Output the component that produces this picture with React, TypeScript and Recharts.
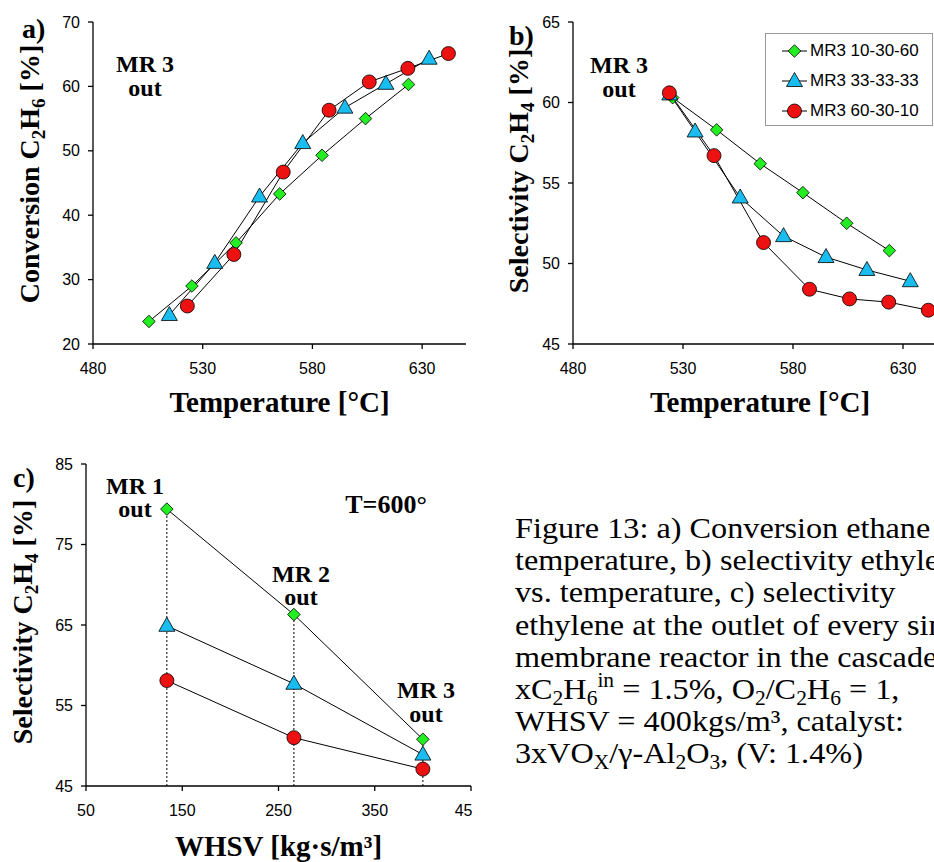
import React from 'react';
import { LineChart, Line, XAxis, YAxis, Legend, ReferenceLine } from 'recharts';

const SERIF = '"Liberation Serif", "Times New Roman", serif';
const SANS = '"Liberation Sans", Arial, sans-serif';

const GREEN = '#22ee22';
const BLUE = '#19bdf0';
const RED = '#ee1111';

// a) conversion of ethane vs temperature (MR 3 outlet)
const aGreenT = [505.5, 525.1, 545.2, 565.1, 584.4, 604.2, 623.8];
const aGreenConv = [23.5, 29.0, 35.7, 43.3, 49.3, 55.0, 60.3];
const aBlueT = [514.8, 535.5, 555.9, 575.6, 594.8, 613.5, 633.2];
const aBlueConv = [24.5, 32.6, 42.9, 51.2, 56.7, 60.4, 64.3];
const aRedT = [523.0, 544.2, 566.7, 587.6, 605.9, 623.5, 642.0];
const aRedConv = [25.9, 33.9, 46.7, 56.3, 60.7, 62.8, 65.1];

// b) selectivity to ethylene vs temperature (MR 3 outlet)
const bGreenT = [525.3, 545.3, 565.1, 584.5, 604.4, 623.8];
const bGreenSel = [60.3, 58.3, 56.2, 54.4, 52.5, 50.8];
const bBlueT = [524.0, 535.5, 556.0, 575.7, 595.0, 613.6, 633.3];
const bBlueSel = [60.5, 58.2, 54.1, 51.7, 50.4, 49.6, 48.9];
const bRedT = [523.8, 544.1, 566.6, 587.5, 605.7, 623.5, 641.5];
const bRedSel = [60.6, 56.7, 51.3, 48.4, 47.8, 47.6, 47.1];

// c) selectivity at the outlet of each reactor, T=600
const whsv = [134, 266, 400];
const cGreenSel = [79.4, 66.3, 50.8];
const cBlueSel = [64.9, 57.7, 48.9];
const cRedSel = [58.1, 51.0, 47.1];

const tempTicks = [480, 530, 580, 630];
const convTicks = [20, 30, 40, 50, 60, 70];
const selTicksB = [45, 50, 55, 60, 65];
const whsvTicks = [50, 150, 250, 350, 450];
const selTicksC = [45, 55, 65, 75, 85];

const seriesNames = ['MR3 10-30-60', 'MR3 33-33-33', 'MR3 60-30-10'];

const zip = (xs: number[], ys: number[]) => xs.map((x, i) => ({ x, y: ys[i] }));

const AXIS = { stroke: '#000', strokeWidth: 1.3 };
const FRAME = { stroke: '#a8a8a8', strokeWidth: 1.5 };
const TICK = { fill: '#000', fontSize: 16, fontFamily: SANS };

function marker(shape: string, cx: number, cy: number, key?: any) {
  if (cx == null || cy == null) return null;
  if (shape === 'diamond') {
    const r = 6.3;
    return <path key={key} d={`M${cx},${cy - r}L${cx + r},${cy}L${cx},${cy + r}L${cx - r},${cy}Z`} fill={GREEN} stroke="#000" strokeWidth={0.8} />;
  }
  if (shape === 'triangle') {
    return <path key={key} d={`M${cx},${cy - 8.5}L${cx + 8},${cy + 5.5}L${cx - 8},${cy + 5.5}Z`} fill={BLUE} stroke="#000" strokeWidth={0.8} />;
  }
  return <circle key={key} cx={cx} cy={cy} r={7} fill={RED} stroke="#000" strokeWidth={0.8} />;
}

const dot = (shape: string) => (p: any) => marker(shape, p.cx, p.cy, `${shape}-${p.index}`);
const shapes = ['diamond', 'triangle', 'circle'];

// segments: [text, baseline offset]
function rich(segs: any[], small: number) {
  let prev = 0;
  return segs.map(([t, off = 0], i) => {
    const dy = off - prev;
    prev = off;
    return (
      <tspan key={i} dy={dy} fontSize={off ? small : undefined}>
        {t}
      </tspan>
    );
  });
}

const yTitle = (segs: any[], gap: number, shift: number) => (p: any) => {
  const vb = p.viewBox;
  const bx = vb.x + vb.width - gap;
  const cy = vb.y + vb.height / 2 + shift;
  return (
    <text x={bx} y={cy} transform={`rotate(-90 ${bx} ${cy})`} textAnchor="middle" fontFamily={SERIF} fontWeight="bold" fontSize={28} fill="#000" style={{ whiteSpace: 'pre' }}>
      {rich(segs, 19)}
    </text>
  );
};

const xTitle = (txt: string, dy: number) => (p: any) => {
  const vb = p.viewBox;
  return (
    <text x={vb.x + vb.width / 2} y={vb.y + dy} textAnchor="middle" fontFamily={SERIF} fontWeight="bold" fontSize={29} fill="#000">
      {txt}
    </text>
  );
};

function LegendBox(props: any) {
  const items = props.payload && props.payload.length ? props.payload.map((e: any) => e.value) : seriesNames;
  return (
    <div style={{ width: 168, height: 93, border: '1.5px solid #999', background: '#fff', boxSizing: 'border-box', paddingTop: 2 }}>
      {items.map((name: string, i: number) => (
        <div key={name} style={{ display: 'flex', alignItems: 'center', height: 30 }}>
          <svg width={44} height={30}>
            <line x1={16} x2={41} y1={15} y2={15} stroke="#000" strokeWidth={1} />
            {marker(shapes[i], 28.5, 15)}
          </svg>
          <span style={{ fontFamily: SANS, fontSize: 17, color: '#000', whiteSpace: 'nowrap' }}>{name}</span>
        </div>
      ))}
    </div>
  );
}

const notes = [
  { t: 'a)', x: 22, y: 38, size: 28, anchor: 'start' },
  { t: 'b)', x: 509, y: 45, size: 28, anchor: 'start' },
  { t: 'c)', x: 13, y: 487, size: 28, anchor: 'start' },
  { t: 'MR 3', x: 145, y: 72, size: 24, anchor: 'middle' },
  { t: 'out', x: 145, y: 96, size: 24, anchor: 'middle' },
  { t: 'MR 3', x: 619, y: 73, size: 24, anchor: 'middle' },
  { t: 'out', x: 619, y: 97, size: 24, anchor: 'middle' },
  { t: 'MR 1', x: 135, y: 494, size: 24, anchor: 'middle' },
  { t: 'out', x: 135, y: 517, size: 24, anchor: 'middle' },
  { t: 'MR 2', x: 301, y: 582, size: 24, anchor: 'middle' },
  { t: 'out', x: 301, y: 605, size: 24, anchor: 'middle' },
  { t: 'MR 3', x: 426, y: 698, size: 24, anchor: 'middle' },
  { t: 'out', x: 426, y: 722, size: 24, anchor: 'middle' },
  { t: 'T=600°', x: 386, y: 513, size: 26, anchor: 'middle' },
];

const caption = [
  [['Figure 13: a) Conversion ethane vs.']],
  [['temperature, b) selectivity ethylene']],
  [['vs. temperature, c) selectivity']],
  [['ethylene at the outlet of every single']],
  [['membrane reactor in the cascade.']],
  [['xC'], ['2', 6], ['H'], ['6', 6], ['in', -12], [' = 1.5%, O'], ['2', 6], ['/C'], ['2', 6], ['H'], ['6', 6], [' = 1,']],
  [['WHSV = 400kgs/m³, catalyst:']],
  [['3xVO'], ['X', 6], ['/γ-Al'], ['2', 6], ['O'], ['3', 6], [', (V: 1.4%)']],
];

export default function App() {
  return (
    <div style={{ position: 'absolute', left: 0, top: 0, width: 934, height: 862, overflow: 'hidden', background: '#fff' }}>
      {/* a) */}
      <div style={{ position: 'absolute', left: 0, top: 0 }}>
        <LineChart width={480} height={420} margin={{ top: 22, right: 14, bottom: 46, left: 0 }}>
          <XAxis type="number" dataKey="x" domain={[480, 650]} ticks={tempTicks} height={30} tickSize={5} tickMargin={14} axisLine={AXIS} tickLine={AXIS} tick={TICK} allowDataOverflow label={xTitle('Temperature [°C]', 68)} />
          <XAxis xAxisId="top" orientation="top" type="number" domain={[480, 650]} height={0} tick={false} tickLine={false} axisLine={FRAME} />
          <YAxis type="number" domain={[20, 70]} ticks={convTicks} width={93} tickSize={5} tickMargin={8} axisLine={AXIS} tickLine={AXIS} tick={TICK} allowDataOverflow
            label={yTitle([['Conversion C'], ['2', 6], ['H'], ['6', 6], [' [%]']], 54.5, -9)} />
          <YAxis yAxisId="right" orientation="right" type="number" domain={[20, 70]} width={0} tick={false} tickLine={false} axisLine={FRAME} />
          <Line data={zip(aGreenT, aGreenConv)} dataKey="y" name={seriesNames[0]} stroke="#000" strokeWidth={1} dot={dot('diamond')} activeDot={false} isAnimationActive={false} />
          <Line data={zip(aBlueT, aBlueConv)} dataKey="y" name={seriesNames[1]} stroke="#000" strokeWidth={1} dot={dot('triangle')} activeDot={false} isAnimationActive={false} />
          <Line data={zip(aRedT, aRedConv)} dataKey="y" name={seriesNames[2]} stroke="#000" strokeWidth={1} dot={dot('circle')} activeDot={false} isAnimationActive={false} />
        </LineChart>
      </div>

      {/* b) */}
      <div style={{ position: 'absolute', left: 480, top: 0 }}>
        <LineChart width={480} height={420} margin={{ top: 22, right: 13, bottom: 46, left: 0 }}>
          <XAxis type="number" dataKey="x" domain={[480, 650]} ticks={tempTicks} height={30} tickSize={5} tickMargin={14} axisLine={AXIS} tickLine={AXIS} tick={TICK} allowDataOverflow label={xTitle('Temperature [°C]', 68)} />
          <XAxis xAxisId="top" orientation="top" type="number" domain={[480, 650]} height={0} tick={false} tickLine={false} axisLine={FRAME} />
          <YAxis type="number" domain={[45, 65]} ticks={selTicksB} width={93} tickSize={5} tickMargin={8} axisLine={AXIS} tickLine={AXIS} tick={TICK} allowDataOverflow
            label={yTitle([['Selectivity C'], ['2', 6], ['H'], ['4', 6], [' [%]']], 45, -12)} />
          <YAxis yAxisId="right" orientation="right" type="number" domain={[45, 65]} width={0} tick={false} tickLine={false} axisLine={FRAME} />
          <Legend layout="vertical" align="center" verticalAlign="middle" content={(p: any) => <LegendBox {...p} />} wrapperStyle={{ left: 285, top: 33, width: 168, height: 93 }} />
          <Line data={zip(bGreenT, bGreenSel)} dataKey="y" name={seriesNames[0]} stroke="#000" strokeWidth={1} dot={dot('diamond')} activeDot={false} isAnimationActive={false} />
          <Line data={zip(bBlueT, bBlueSel)} dataKey="y" name={seriesNames[1]} stroke="#000" strokeWidth={1} dot={dot('triangle')} activeDot={false} isAnimationActive={false} />
          <Line data={zip(bRedT, bRedSel)} dataKey="y" name={seriesNames[2]} stroke="#000" strokeWidth={1} dot={dot('circle')} activeDot={false} isAnimationActive={false} />
        </LineChart>
      </div>

      {/* c) — the panel is cropped just right of its frame, as in the source */}
      <div style={{ position: 'absolute', left: 0, top: 430, width: 472, height: 432, overflow: 'hidden' }}>
        <LineChart width={480} height={432} margin={{ top: 34, right: 9, bottom: 46, left: 0 }}>
          <XAxis type="number" dataKey="x" domain={[50, 450]} ticks={whsvTicks} height={30} tickSize={5} tickMargin={14} axisLine={AXIS} tickLine={AXIS} tick={TICK} allowDataOverflow label={xTitle('WHSV [kg·s/m³]', 70)} />
          <XAxis xAxisId="top" orientation="top" type="number" domain={[50, 450]} height={0} tick={false} tickLine={false} axisLine={FRAME} />
          <YAxis type="number" domain={[45, 85]} ticks={selTicksC} width={86} tickSize={5} tickMargin={8} axisLine={AXIS} tickLine={AXIS} tick={TICK} allowDataOverflow
            label={yTitle([['Selectivity C'], ['2', 6], ['H'], ['4', 6], [' [%]']], 54.3, -3)} />
          <YAxis yAxisId="right" orientation="right" type="number" domain={[45, 85]} width={0} tick={false} tickLine={false} axisLine={FRAME} />
          {whsv.map((w, i) => (
            <ReferenceLine key={w} segment={[{ x: w, y: 45 }, { x: w, y: cGreenSel[i] }]} stroke="#000" strokeWidth={1} strokeDasharray="2 2" />
          ))}
          <Line data={zip(whsv, cGreenSel)} dataKey="y" name={seriesNames[0]} stroke="#000" strokeWidth={1} dot={dot('diamond')} activeDot={false} isAnimationActive={false} />
          <Line data={zip(whsv, cBlueSel)} dataKey="y" name={seriesNames[1]} stroke="#000" strokeWidth={1} dot={dot('triangle')} activeDot={false} isAnimationActive={false} />
          <Line data={zip(whsv, cRedSel)} dataKey="y" name={seriesNames[2]} stroke="#000" strokeWidth={1} dot={dot('circle')} activeDot={false} isAnimationActive={false} />
        </LineChart>
      </div>

      {/* free text: panel letters, annotations, caption */}
      <svg width={934} height={862} style={{ position: 'absolute', left: 0, top: 0, pointerEvents: 'none' }}>
        {notes.map((n, i) => (
          <text key={i} x={n.x} y={n.y} textAnchor={n.anchor as any} fontFamily={SERIF} fontWeight="bold" fontSize={n.size} fill="#000">
            {n.t}
          </text>
        ))}
        <g transform="translate(515,0) scale(1.075,1)">
          {caption.map((segs, i) => (
            <text key={i} x={0} y={538 + i * 32.2} fontFamily={SERIF} fontSize={30} fill="#000" style={{ whiteSpace: 'pre' }}>
              {rich(segs, 20)}
            </text>
          ))}
        </g>
      </svg>
    </div>
  );
}
